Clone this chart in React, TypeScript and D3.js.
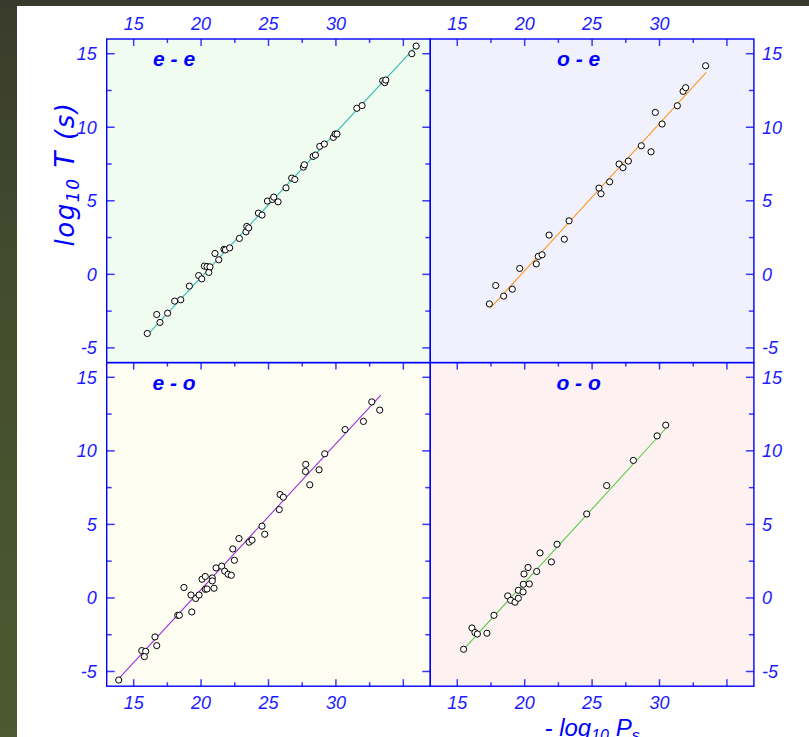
import * as d3 from 'd3';

// panel data: [-log10 Ps, log10 T]
const eePoints = [
  [16.01, -4.02], [16.71, -2.73], [16.95, -3.27], [17.52, -2.64], [18.04, -1.82], [18.49, -1.73],
  [19.13, -0.8], [19.82, -0.08], [20.05, -0.31], [20.24, 0.56], [20.44, 0.53], [20.57, 0.13],
  [20.66, 0.51], [21.03, 1.42], [21.31, 0.99], [21.7, 1.7], [21.8, 1.66], [22.12, 1.8],
  [22.84, 2.44], [23.33, 2.89], [23.39, 3.26], [23.53, 3.16], [24.25, 4.16], [24.52, 4.03],
  [24.92, 4.98], [25.29, 5.09], [25.39, 5.25], [25.71, 4.93], [26.3, 5.88], [26.72, 6.54],
  [26.95, 6.45], [27.59, 7.29], [27.66, 7.45], [28.31, 8.02], [28.48, 8.11], [28.8, 8.7],
  [29.14, 8.86], [29.81, 9.31], [29.94, 9.54], [30.08, 9.54], [31.55, 11.29], [31.94, 11.47],
  [33.47, 13.16], [33.62, 13.03], [33.7, 13.21], [35.63, 15.0], [35.95, 15.52],
];
const oePoints = [
  [17.38, -2.01], [17.85, -0.76], [18.44, -1.48], [19.08, -1.01], [19.63, 0.4], [20.86, 0.71],
  [21.01, 1.22], [21.29, 1.33], [21.81, 2.67], [22.94, 2.39], [23.29, 3.64], [25.51, 5.86],
  [25.66, 5.48], [26.3, 6.29], [27.0, 7.5], [27.29, 7.25], [27.69, 7.7], [28.65, 8.74],
  [29.37, 8.33], [29.69, 11.01], [30.19, 10.22], [31.32, 11.46], [31.75, 12.44], [31.94, 12.69],
  [33.42, 14.18],
];
const eoPoints = [
  [13.89, -5.58], [15.6, -3.58], [15.89, -3.63], [15.79, -3.99], [16.58, -2.65], [16.71, -3.24],
  [18.27, -1.18], [18.39, -1.18], [19.31, -0.95], [18.73, 0.71], [19.25, 0.2], [19.6, -0.04],
  [19.85, 0.2], [20.07, 1.27], [20.31, 1.46], [20.31, 0.59], [20.44, 0.61], [20.83, 1.36],
  [20.83, 1.16], [20.96, 0.66], [21.11, 2.04], [21.53, 2.16], [21.75, 1.82], [22.0, 1.61],
  [22.24, 1.54], [22.47, 2.56], [22.35, 3.33], [22.81, 4.04], [23.56, 3.79], [23.78, 3.93],
  [24.52, 4.88], [24.72, 4.33], [25.8, 6.01], [25.86, 7.03], [26.1, 6.85], [27.74, 8.6],
  [27.76, 9.08], [28.06, 7.69], [28.75, 8.71], [29.17, 9.8], [30.68, 11.45], [32.04, 12.0],
  [32.66, 13.33], [33.25, 12.77],
];
const ooPoints = [
  [15.47, -3.49], [16.09, -2.04], [16.31, -2.35], [16.49, -2.45], [17.2, -2.4], [17.72, -1.18],
  [18.74, 0.14], [18.96, -0.16], [19.28, -0.29], [19.53, -0.02], [19.53, 0.52], [19.88, 0.41],
  [19.9, 0.93], [20.34, 0.95], [19.95, 1.63], [20.25, 2.07], [20.89, 1.8], [21.14, 3.06],
  [21.98, 2.45], [22.4, 3.65], [24.6, 5.71], [26.08, 7.64], [28.06, 9.35], [29.82, 11.02],
  [30.46, 11.75],
];

// fitted lines, end points
const eeFit = [[16.0, -4.14], [35.95, 15.52]];
const oeFit = [[17.43, -2.32], [33.47, 13.73]];
const eoFit = [[13.84, -5.53], [33.33, 13.79]];
const ooFit = [[15.52, -3.44], [30.46, 11.52]];

const panelNames = ['e - e', 'o - e', 'e - o', 'o - o'];
const labelX = [18, 24, 18, 24];
const xTicks = [15, 17.5, 20, 22.5, 25, 27.5, 30, 32.5, 35];
const xLabels = [15, 20, 25, 30];
const yTicks = [-5, -2.5, 0, 2.5, 5, 7.5, 10, 12.5, 15];
const yLabels = [-5, 0, 5, 10, 15];

const L = 106.7, T = 39, S = 323.6;
const BLUE = '#0000ff';
const LBL = '#1c1cff';
const TICK = '#3a3aff';
const FONT = '"Liberation Sans", Arial, sans-serif';
const TFONT = '"DejaVu Sans", Verdana, sans-serif';

const panels = [
  { name: panelNames[0], pts: eePoints, fit: eeFit, col: 0, row: 0, bg: '#f1fcf1', line: '#33bbb3' },
  { name: panelNames[1], pts: oePoints, fit: oeFit, col: 1, row: 0, bg: '#f1f1fd', line: '#ff9922' },
  { name: panelNames[2], pts: eoPoints, fit: eoFit, col: 0, row: 1, bg: '#fdfdf1', line: '#9933dd' },
  { name: panelNames[3], pts: ooPoints, fit: ooFit, col: 1, row: 1, bg: '#fdf1f1', line: '#55cc44' },
];

function Panel({ p, i }) {
  const x0 = L + p.col * S, y0 = T + p.row * S;
  const x = d3.scaleLinear().domain([13, 37]).range([x0, x0 + S]);
  const y = d3.scaleLinear().domain([-6, 16]).range([y0 + S, y0]);
  const line = d3.line().x(d => x(d[0])).y(d => y(d[1]));
  const major = v => v % 5 === 0;
  const left = p.col === 0, bottom = p.row === 1;
  return (
    <g>
      <rect x={x0} y={y0} width={S} height={S} fill={p.bg} />
      {/* ticks, inward */}
      {xTicks.map(t => (
        <line key={'t' + t} x1={x(t)} x2={x(t)} y1={y0} y2={y0 + (major(t) ? 7 : 4)} stroke={TICK} strokeWidth={1.5} />
      ))}
      {bottom && xTicks.map(t => (
        <line key={'b' + t} x1={x(t)} x2={x(t)} y1={y0 + S} y2={y0 + S - (major(t) ? 7 : 4)} stroke={TICK} strokeWidth={1.5} />
      ))}
      {left && yTicks.map(t => (
        <line key={'l' + t} x1={x0} x2={x0 + (major(t) ? 8 : 5)} y1={y(t)} y2={y(t)} stroke={TICK} strokeWidth={1.5} />
      ))}
      {yTicks.map(t => (
        <line key={'r' + t} x1={x0 + S} x2={x0 + S - (major(t) ? 8 : 5)} y1={y(t)} y2={y(t)} stroke={TICK} strokeWidth={1.5} />
      ))}
      <path d={line(p.fit)} fill="none" stroke={p.line} strokeWidth={1.1} />
      {p.pts.map((d, k) => (
        <circle key={k} cx={x(d[0])} cy={y(d[1])} r={3.1} fill="#fff" stroke="#000" strokeWidth={1} />
      ))}
      <text x={x(labelX[i])} y={y0 + 27} textAnchor="middle" fill={BLUE} fontFamily={FONT}
        fontSize={21} fontWeight="bold" fontStyle="italic">{p.name}</text>
      {/* tick labels */}
      {p.row === 0 && xLabels.map(t => (
        <text key={'xt' + t} x={x(t)} y={y0 - 9.5} textAnchor="middle" fill={LBL} fontFamily={FONT}
          fontSize={18} fontStyle="italic">{t}</text>
      ))}
      {bottom && xLabels.map(t => (
        <text key={'xb' + t} x={x(t)} y={y0 + S + 23} textAnchor="middle" fill={LBL} fontFamily={FONT}
          fontSize={18} fontStyle="italic">{t}</text>
      ))}
      {yLabels.map(t => (
        <text key={'y' + t} x={left ? x0 - 10 : x0 + S + 8} y={y(t)} dy="0.36em"
          textAnchor={left ? 'end' : 'start'} fill={LBL} fontFamily={FONT}
          fontSize={18} fontStyle="italic">{t}</text>
      ))}
    </g>
  );
}

export default function App() {
  return (
    <svg width={809} height={737} style={{ position: 'absolute', left: 0, top: 0, display: 'block' }}>
      <defs>
        <linearGradient id="side" x1="0" y1="0" x2="0" y2="1">
          <stop offset="0" stopColor="#393b2b" />
          <stop offset="0.35" stopColor="#434b2e" />
          <stop offset="1" stopColor="#4b5a30" />
        </linearGradient>
      </defs>
      <rect x={0} y={0} width={809} height={737} fill="#fff" />
      <rect x={0} y={0} width={17} height={737} fill="url(#side)" />
      <rect x={0} y={0} width={809} height={6} fill="#383a2b" />
      {panels.map((p, i) => <Panel key={p.name} p={p} i={i} />)}
      {/* frames */}
      {panels.map(p => (
        <rect key={'f' + p.name} x={L + p.col * S} y={T + p.row * S} width={S} height={S}
          fill="none" stroke={BLUE} strokeWidth={1.4} />
      ))}
      <text transform="translate(74,174) rotate(-90)" textAnchor="middle" fill={BLUE} fontFamily={TFONT}
        fontSize={26} fontStyle="oblique" letterSpacing={1.6}>
        log<tspan fontSize={17} dy={5}>10</tspan><tspan dy={-5}> T (s)</tspan>
      </text>
      <text x={L + S * 1.5} y={736} textAnchor="middle" fill={BLUE} fontFamily={FONT}
        fontSize={24} fontStyle="italic">
        - log<tspan fontSize={16} dy={5}>10</tspan><tspan dy={-5}> P</tspan><tspan fontSize={16} dy={5}>s</tspan>
      </text>
    </svg>
  );
}
